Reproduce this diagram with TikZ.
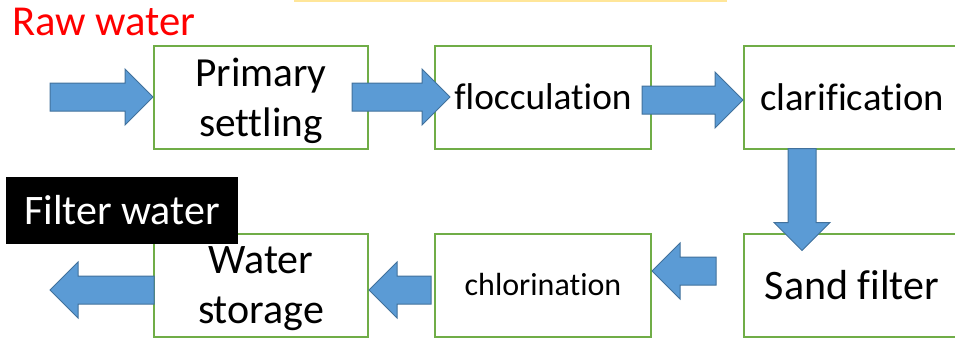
\documentclass[tikz,border=0pt]{standalone}
\usepackage{fontspec}
\setmainfont[Ligatures=NoCommon]{Carlito}
\usetikzlibrary{shapes.arrows,calc}
\definecolor{boxgreen}{HTML}{70AD47}
\definecolor{flowfill}{HTML}{5B9BD5}
\definecolor{flowline}{HTML}{41719C}
\definecolor{baryellow}{HTML}{FFE699}
\def\pix{0.75pt}
\newcommand\flowarrow[2]{%
  \path let \p1=(#1), \p2=(#2), \n1={veclen(\x2-\x1,\y2-\y1)}, \n2={mod(atan2(\y2-\y1,\x2-\x1)+360,360)} in
    node[flow, minimum height=\n1, shape border rotate=\n2, anchor=tip] at (\p2) {};}
\begin{document}
\begin{tikzpicture}[x=\pix, y=-\pix,
  box/.style={draw=boxgreen, line width=2*\pix, minimum width=216*\pix, minimum height=103*\pix, align=center, inner sep=0pt},
  flow/.style={single arrow, fill=flowfill, draw=flowline, line width=\pix, outer sep=0pt, inner sep=13.5*\pix, single arrow head extend=14*\pix}]
  \clip (0,0) rectangle (955,339);
  \fill[baryellow] (294,0) rectangle (727,2);
  \node[text=red, inner sep=0pt, anchor=base west, font=\fontsize{32}{38}\selectfont] (raw) at (12,35) {Raw water};
  \node[box, minimum width=214*\pix, text depth=0pt, font=\fontsize{31}{37.5}\selectfont] (prim) at (261,97) {Primary\\settling};
  \node[box, font=\fontsize{28}{32}\selectfont] (floc) at (543,97) {flocculation};
  \node[box, font=\fontsize{29}{32}\selectfont] (clar) at (852,97) {clarification};
  \node[box, font=\fontsize{31.5}{36}\selectfont] (sand) at (852,285) {Sand filter};
  \node[box, font=\fontsize{24}{28}\selectfont] (chlor) at (543,285) {chlorination};
  \node[box, minimum width=214*\pix, text depth=0pt, font=\fontsize{31.5}{37}\selectfont] (store) at (261,285) {Water\\storage};
  \coordinate (in) at ([xshift=-103*\pix]prim.west);
  \coordinate (out) at ([xshift=-103*\pix]store.west);
  \flowarrow{in}{prim.west}
  \flowarrow{[xshift=-17*\pix]prim.east}{[xshift=16*\pix]floc.west}
  \flowarrow{[xshift=-10*\pix, yshift=-3*\pix]floc.east}{[yshift=-3*\pix]clar.west}
  \flowarrow{[xshift=59*\pix, yshift=\pix]clar.south west}{[xshift=59*\pix, yshift=-18*\pix]sand.north west}
  \flowarrow{[xshift=-27*\pix, yshift=14*\pix]sand.west}{[yshift=14*\pix]chlor.east}
  \flowarrow{[xshift=-3*\pix, yshift=-5*\pix]chlor.west}{[yshift=-5*\pix]store.east}
  \flowarrow{[xshift=\pix, yshift=-5*\pix]store.west}{[yshift=-5*\pix]out}
  \node[fill=black, text=white, inner sep=0pt, minimum width=232*\pix, minimum height=67*\pix, font=\fontsize{31.5}{36}\selectfont] (filt) at (122,210.5) {Filter water};
\end{tikzpicture}
\end{document}
